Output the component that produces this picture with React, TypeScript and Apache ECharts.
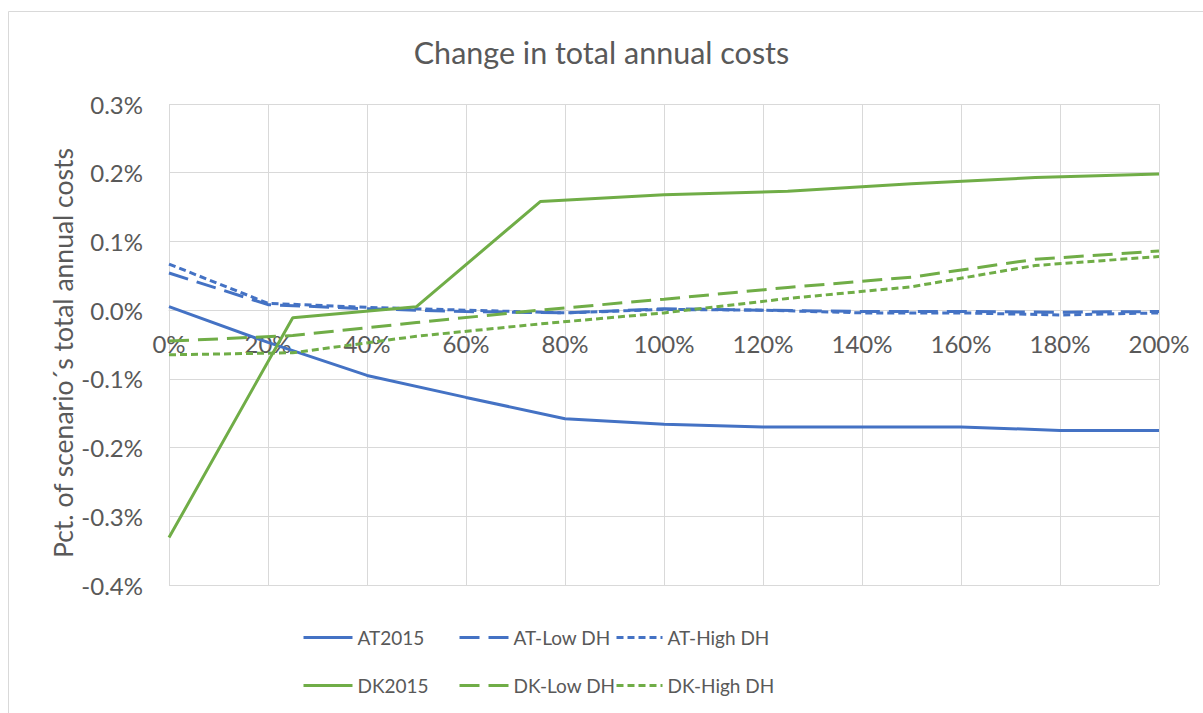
import React, { useEffect, useRef } from "react";
import * as echarts from "echarts";

const xAT = [0, 20, 40, 60, 80, 100, 120, 140, 160, 180, 200];
const xDK = [0, 25, 50, 75, 100, 125, 150, 175, 200];

const at2015 = [0.005, -0.047, -0.095, -0.127, -0.158, -0.166, -0.17, -0.17, -0.17, -0.175, -0.175];
const atLow = [0.054, 0.008, 0.002, -0.002, -0.004, 0.002, 0.0, -0.002, -0.002, -0.003, -0.002];
const atHigh = [0.067, 0.01, 0.004, 0.0, -0.004, 0.001, 0.0, -0.004, -0.004, -0.007, -0.004];

const dk2015 = [-0.331, -0.011, 0.005, 0.158, 0.168, 0.173, 0.184, 0.193, 0.198];
const dkLow = [-0.045, -0.037, -0.018, 0.0, 0.016, 0.033, 0.048, 0.074, 0.086];
const dkHigh = [-0.065, -0.062, -0.038, -0.02, -0.004, 0.017, 0.034, 0.065, 0.078];

const seriesNames = ["AT2015", "AT-Low DH", "AT-High DH", "DK2015", "DK-Low DH", "DK-High DH"];
const titleText = "Change in total annual costs";
const yAxisTitle = "Pct. of scenario´s total annual costs";

const BLUE = "#4472C4";
const GREEN = "#70AD47";
const FONT = "Lato";
const TXT = "#595959";

export default function App() {
  const ref = useRef<HTMLDivElement>(null);
  useEffect(() => {
    if (!ref.current) return;
    const chart = echarts.init(ref.current, undefined, { renderer: "svg" });
    const zip = (xs: number[], ys: number[]) => xs.map((x, i) => [x, ys[i]]);
    const mk = (name: string, xs: number[], ys: number[], color: string, type: any) => ({
      name,
      type: "line",
      data: zip(xs, ys),
      symbol: "none",
      showSymbol: false,
      lineStyle: { color, width: 3, type },
      itemStyle: { color },
      z: 3,
    });
    const longDash = [20, 9];
    const shortDash = [7, 4];
    const legendPos = [
      { left: 302, top: 628 },
      { left: 458, top: 628 },
      { left: 615, top: 628 },
      { left: 302, top: 676 },
      { left: 458, top: 676 },
      { left: 615, top: 676 },
    ];
    const legends = seriesNames.map((n, i) => ({
      data: [n],
      left: legendPos[i].left,
      top: legendPos[i].top,
      padding: 0,
      itemWidth: i % 3 === 2 ? 46 : 49,
      itemHeight: 20,
      itemGap: 0,
      itemStyle: { opacity: 0 },
      lineStyle: { width: 3 },
      textStyle: { fontFamily: FONT, fontSize: 19, color: TXT },
      selectedMode: false,
    }));
    chart.setOption({
      animation: false,
      backgroundColor: "#ffffff",
      title: {
        text: titleText,
        left: "center",
        top: 31,
        textStyle: { fontFamily: FONT, fontSize: 30.5, fontWeight: "normal", color: TXT },
      },
      graphic: [
        {
          type: "rect",
          shape: { x: 8.5, y: 11.5, width: 1400, height: 900 },
          style: { fill: "none", stroke: "#d9d9d9", lineWidth: 1 },
          silent: true,
          z: -1,
        },
        {
          type: "text",
          x: 63,
          y: 353,
          rotation: Math.PI / 2,
          style: {
            text: yAxisTitle,
            fontFamily: FONT,
            fontSize: 26.5,
            fill: TXT,
            align: "center",
            verticalAlign: "middle",
          },
        },
      ],
      legend: legends,
      grid: { left: 169, right: 44, top: 104, bottom: 128, containLabel: false },
      xAxis: {
        type: "value",
        min: 0,
        max: 200,
        interval: 20,
        offset: -275,
        axisLine: { show: true, onZero: false, lineStyle: { color: "#d9d9d9", width: 1 } },
        axisTick: { show: false },
        splitLine: { show: true, lineStyle: { color: "#d9d9d9", width: 1 } },
        axisLabel: {
          formatter: (v: number) => v + "%",
          fontFamily: FONT,
          fontSize: 24,
          color: TXT,
          margin: 21,
        },
      },
      yAxis: {
        type: "value",
        min: -0.4,
        max: 0.3,
        interval: 0.1,
        axisLine: { show: false, onZero: false },
        axisTick: { show: false },
        splitLine: { show: true, lineStyle: { color: "#d9d9d9", width: 1 } },
        axisLabel: {
          formatter: (v: number) => v.toFixed(1) + "%",
          fontFamily: FONT,
          fontSize: 24,
          color: TXT,
          margin: 26,
        },
      },
      series: [
        mk(seriesNames[0], xAT, at2015, BLUE, "solid"),
        mk(seriesNames[1], xAT, atLow, BLUE, longDash),
        mk(seriesNames[2], xAT, atHigh, BLUE, shortDash),
        mk(seriesNames[3], xDK, dk2015, GREEN, "solid"),
        mk(seriesNames[4], xDK, dkLow, GREEN, longDash),
        mk(seriesNames[5], xDK, dkHigh, GREEN, shortDash),
      ],
    });
    return () => chart.dispose();
  }, []);
  return (
    <div
      ref={ref}
      style={{ position: "fixed", left: 0, top: 0, width: 1203, height: 713 }}
    />
  );
}
